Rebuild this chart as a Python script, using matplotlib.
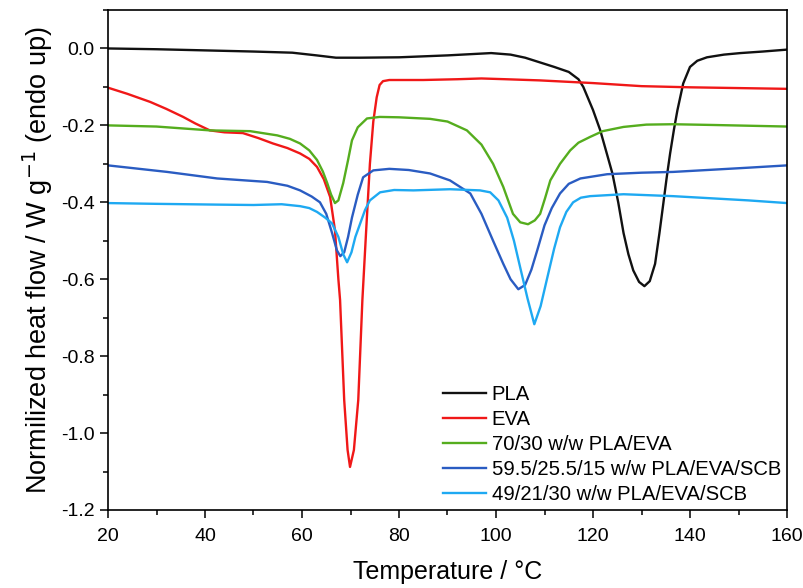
import matplotlib
matplotlib.use("Agg")
import matplotlib.pyplot as plt
from matplotlib.ticker import MultipleLocator

plt.rcParams['font.family'] = ['Liberation Sans', 'DejaVu Sans']

# temperature (°C) / normalized heat flow (W/g)
pla_t = [20, 30, 40, 50, 58, 63, 67, 72, 80, 90, 99, 103, 106, 109, 112, 115, 117, 118,
         120, 121.5, 123, 124, 125.2, 126.3, 127.3, 128.3, 129.5, 130.6, 131.7, 132.8,
         133.7, 134.5, 135.2, 135.9, 136.7, 137.4, 138.6, 140, 141.5, 143.5, 147, 150.4,
         155, 160]
pla_v = [0.0, -0.002, -0.005, -0.008, -0.011, -0.018, -0.024, -0.024, -0.023, -0.018,
         -0.012, -0.016, -0.024, -0.036, -0.048, -0.061, -0.080, -0.100, -0.160, -0.213,
         -0.280, -0.325, -0.400, -0.480, -0.535, -0.577, -0.607, -0.618, -0.605, -0.560,
         -0.480, -0.403, -0.335, -0.273, -0.210, -0.161, -0.091, -0.048, -0.032, -0.023,
         -0.016, -0.012, -0.008, -0.003]

eva_t = [20, 24, 28.7, 32, 35.5, 38, 41, 44, 47.8, 51, 54, 57, 59.6, 61.5, 63.1, 64.5,
         65.8, 66.8, 67.5, 67.85, 68.7, 69.4, 69.9, 70.7, 71.6, 72.45, 73.2, 74.0, 74.7,
         75.4, 76.0, 76.7, 78, 85, 92, 97, 102, 109, 120, 130, 140, 150, 160]
eva_v = [-0.102, -0.118, -0.139, -0.157, -0.178, -0.195, -0.213, -0.218, -0.220, -0.233,
         -0.247, -0.259, -0.273, -0.287, -0.308, -0.340, -0.386, -0.473, -0.600, -0.654,
         -0.914, -1.044, -1.088, -1.044, -0.914, -0.654, -0.480, -0.300, -0.190, -0.127,
         -0.095, -0.085, -0.082, -0.082, -0.080, -0.078, -0.080, -0.083, -0.090, -0.098,
         -0.101, -0.103, -0.105]

b70_t = [20, 30, 41, 45, 49.3, 54.9, 57.5, 59.6, 61.5, 63.1, 64.3, 65.2, 66.0, 66.8, 67.5,
         68.5, 69.5, 70.3, 71.5, 73.4, 76, 80, 86.4, 90, 94, 97, 99.4, 101.5, 103.5, 105,
         106.6, 108, 109.1, 110.1, 111.2, 113.2, 115.3, 117, 119.4, 122, 126.3, 131, 136.5,
         145, 160]
b70_v = [-0.200, -0.203, -0.213, -0.214, -0.215, -0.226, -0.235, -0.247, -0.265, -0.290,
         -0.320, -0.350, -0.380, -0.402, -0.395, -0.350, -0.290, -0.239, -0.205, -0.182,
         -0.178, -0.179, -0.183, -0.190, -0.213, -0.250, -0.300, -0.360, -0.430, -0.452,
         -0.457, -0.447, -0.430, -0.390, -0.343, -0.300, -0.265, -0.245, -0.230, -0.215,
         -0.204, -0.198, -0.197, -0.199, -0.203]

s15_t = [20, 32.2, 42.5, 52.8, 57, 59.6, 62, 63.7, 65, 66.2, 67.2, 67.9, 68.7, 69.5, 70.3,
         71.5, 72.6, 74.7, 78, 82, 86.4, 90.5, 92.6, 94.7, 97, 99.4, 101.5, 103, 104.6, 106,
         107.3, 108.5, 110, 111.5, 113.2, 115, 117.4, 122.9, 130, 136.5, 145, 152, 160]
s15_v = [-0.304, -0.321, -0.338, -0.347, -0.357, -0.369, -0.385, -0.400, -0.430, -0.480,
         -0.525, -0.540, -0.530, -0.490, -0.440, -0.380, -0.335, -0.317, -0.313, -0.316,
         -0.325, -0.343, -0.360, -0.377, -0.430, -0.500, -0.560, -0.600, -0.626, -0.615,
         -0.575, -0.525, -0.460, -0.415, -0.377, -0.352, -0.338, -0.327, -0.323, -0.321,
         -0.315, -0.310, -0.304]

s30_t = [20, 30, 42.5, 50, 55.8, 59.6, 61.5, 63.1, 64.8, 66.2, 67.5, 68.5, 69.3, 70.2, 71,
         72, 73, 74, 76.1, 79, 83, 90.5, 96.7, 98.8, 100.5, 102.3, 103.7, 105, 106.5, 107.9,
         109.2, 110.5, 112, 113.2, 114.5, 115.9, 117.5, 119.4, 126.3, 136.5, 145, 152, 160]
s30_v = [-0.402, -0.404, -0.406, -0.407, -0.405, -0.410, -0.415, -0.425, -0.440, -0.455,
         -0.490, -0.535, -0.556, -0.530, -0.490, -0.455, -0.420, -0.395, -0.374, -0.368,
         -0.369, -0.366, -0.369, -0.374, -0.395, -0.440, -0.500, -0.570, -0.650, -0.717,
         -0.670, -0.600, -0.520, -0.465, -0.425, -0.400, -0.388, -0.384, -0.379, -0.384,
         -0.390, -0.395, -0.402]

labels = ['PLA', 'EVA', '70/30 w/w PLA/EVA', '59.5/25.5/15 w/w PLA/EVA/SCB',
          '49/21/30 w/w PLA/EVA/SCB']
colors = ['#111111', '#f01818', '#55ad1e', '#2a5cc2', '#1ea9f2']

fig = plt.figure(figsize=(8.04, 5.88), dpi=100)
ax = fig.add_axes([108/804, 1 - 510/588, (787 - 108)/804, 500/588])

series = [(pla_t, pla_v), (eva_t, eva_v), (b70_t, b70_v), (s15_t, s15_v), (s30_t, s30_v)]
for (t, v), lab, c in zip(series, labels, colors):
    ax.plot(t, v, color=c, lw=1.7, label=lab)

ax.set_xlim(20, 160)
ax.set_ylim(-1.2, 0.1)
ax.xaxis.set_major_locator(MultipleLocator(20))
ax.xaxis.set_minor_locator(MultipleLocator(10))
ax.yaxis.set_minor_locator(MultipleLocator(0.1))
ax.set_yticks([0.0, -0.2, -0.4, -0.6, -0.8, -1.0, -1.2])
ax.set_yticklabels(['0.0', '-0.2', '-0.4', '-0.6', '-0.8', '-1.0', '-1.2'])
ax.tick_params(which='major', direction='out', length=6, width=1.1, labelsize=14,
               top=False, right=False)
ax.tick_params(axis='x', which='major', pad=7)
ax.tick_params(which='minor', direction='out', length=3.5, width=1.1,
               top=False, right=False)
for s in ax.spines.values():
    s.set_linewidth(1.2)

ax.set_xlabel('Temperature / °C', fontsize=18, labelpad=11)
ax.set_ylabel('Normilized heat flow / W g$^{-1}$ (endo up)', fontsize=19.5, labelpad=4)

ax.legend(loc='upper left', bbox_to_anchor=(0.4934, 0.249), frameon=False, fontsize=14.6,
          borderpad=0, borderaxespad=0, handlelength=2.1, handletextpad=0.3,
          labelspacing=0.29)

fig.savefig('out.png', dpi=100)
